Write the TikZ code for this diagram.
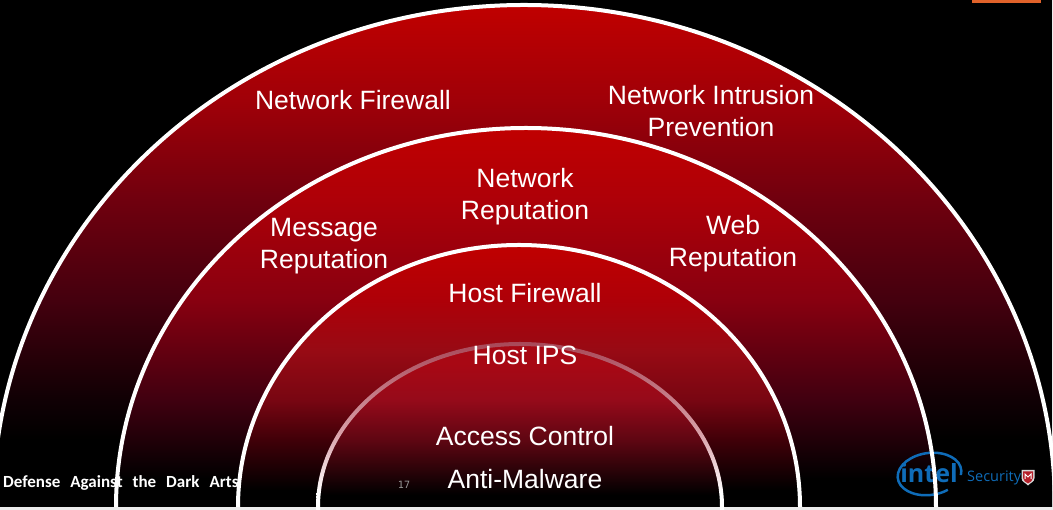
\documentclass[tikz,border=0pt]{standalone}
\usepackage{fontspec}
\setmainfont{Liberation Sans}
\newfontfamily\footfont[WordSpace=2.6]{Carlito}
\newfontfamily\pagefont{DejaVu Sans Mono}
\newfontfamily\logofont{Open Sans}
\definecolor{toprim}{HTML}{C00000}
\definecolor{outera}{HTML}{A00008}
\definecolor{outerb}{HTML}{70000E}
\definecolor{outerc}{HTML}{44000E}
\definecolor{outerd}{HTML}{100004}
\definecolor{seconda}{HTML}{AE0008}
\definecolor{secondb}{HTML}{880010}
\definecolor{secondc}{HTML}{400010}
\definecolor{thirda}{HTML}{AE0008}
\definecolor{thirdb}{HTML}{980A14}
\definecolor{thirdc}{HTML}{780612}
\definecolor{thirdd}{HTML}{400008}
\definecolor{topinner}{HTML}{A80814}
\definecolor{midinner}{HTML}{960A1A}
\definecolor{lowinner}{HTML}{5E0612}
\definecolor{intelblue}{HTML}{0F6CB8}
\definecolor{tabcolor}{HTML}{E0622A}
\definecolor{shieldred}{HTML}{B5202A}
\pgfdeclareverticalshading{outerfill}{100bp}{color(0bp)=(black); color(31.7bp)=(black); color(35.7bp)=(outerd); color(45.6bp)=(outerc); color(55.6bp)=(outerb); color(65.5bp)=(outera); color(75bp)=(toprim); color(100bp)=(toprim)}
\pgfdeclareverticalshading{secondfill}{100bp}{color(0bp)=(black); color(28.6bp)=(black); color(39.1bp)=(secondc); color(52.3bp)=(secondb); color(65.5bp)=(seconda); color(75bp)=(toprim); color(100bp)=(toprim)}
\pgfdeclareverticalshading{thirdfill}{100bp}{color(0bp)=(black); color(28.2bp)=(black); color(37.8bp)=(thirdd); color(45.4bp)=(thirdc); color(55bp)=(thirdb); color(64.5bp)=(thirda); color(75bp)=(toprim); color(100bp)=(toprim)}
\pgfdeclareverticalshading{innerfill}{100bp}{color(0bp)=(black); color(28.7bp)=(black); color(45.5bp)=(lowinner); color(58bp)=(midinner); color(69bp)=(topinner); color(100bp)=(topinner)}
\definecolor{rimtop}{HTML}{A84858}
\definecolor{rimmid}{HTML}{D8A0A8}
\pgfdeclareverticalshading{innerrim}{100bp}{color(0bp)=(white); color(30bp)=(white); color(48bp)=(rimmid); color(75bp)=(rimtop); color(100bp)=(rimtop)}
\tikzset{
  layer/.style={align=center, text=white, font=\fontsize{26.5}{32}\selectfont},
  rim/.style={draw=white, line width=4pt},
}
\begin{document}
\begin{tikzpicture}[x=1pt, y=1pt]
\useasboundingbox (0,0) rectangle (1053,510);
\clip (0,0) rectangle (1053,510);
\fill[gray!15] (0,0) rectangle (1053,510);
\fill[black] (0,3) rectangle (1052,510);
\begin{scope}
\clip (0,3) rectangle (1052,510);
% rings, outermost first
\shade[shading=outerfill] (-7,3) arc[start angle=180, end angle=0, x radius=531, y radius=502] -- cycle;
\shade[shading=secondfill] (116,3) arc[start angle=180, end angle=0, x radius=410, y radius=379] -- cycle;
\shade[shading=thirdfill] (238,3) arc[start angle=180, end angle=0, x radius=281, y radius=262] -- cycle;
\shade[shading=innerfill] (318,3) arc[start angle=180, end angle=0, x radius=202, y radius=163] -- cycle;
\end{scope}
\fill[tabcolor] (972,510) rectangle (1041,507);
\node[font=\footfont\bfseries\fontsize{17}{19}\selectfont, text=white, anchor=west, inner sep=0pt] (footer) at (3,27) {Defense Against the Dark Arts};
\node[font=\pagefont\fontsize{10}{12}\selectfont, text=gray!80] (pagenum) at (404,25) {17};
% logo
\draw[intelblue, line width=2.5pt, rotate around={8:(929.5,36)}] (929.5,36) ++(-15:32 and 21) arc[start angle=-15, end angle=300, x radius=32, y radius=21];
\node[font=\logofont\bfseries\fontsize{25}{28}\selectfont, text=intelblue, inner sep=0pt] (intel) at (929,37) {intel};
\node[font=\logofont\fontsize{14.5}{16}\selectfont, text=intelblue, anchor=west, inner sep=0pt] (security) at (967,32) {Security};
\fill[white!85!black] (1021.5,40) -- (1034.5,40) -- (1034.5,32) .. controls (1034.5,28) and (1030,27) .. (1028,24.5) .. controls (1026,27) and (1021.5,28) .. (1021.5,32) -- cycle;
\fill[shieldred] (1023,38.5) -- (1033,38.5) -- (1033,32) .. controls (1033,29) and (1030,28) .. (1028,26.5) .. controls (1026,28) and (1023,29) .. (1023,32) -- cycle;
\draw[white, line width=1pt] (1025,31) -- (1025,36) -- (1028,33) -- (1031,36) -- (1031,31);
\begin{scope}
\clip (0,0) rectangle (1053,510);
\draw[rim] (-7,3) arc[start angle=180, end angle=0, x radius=531, y radius=502];
\draw[rim] (116,3) arc[start angle=180, end angle=0, x radius=410, y radius=379];
\draw[rim] (238,3) arc[start angle=180, end angle=0, x radius=281, y radius=262];
\end{scope}
\shade[shading=innerrim] (316,0) -- (316,3) arc[start angle=180, end angle=0, x radius=204, y radius=165] -- (724,0) -- (720,0) -- (720,3) arc[start angle=0, end angle=180, x radius=200, y radius=161] -- (320,0) -- cycle;
% labels
\node[layer] (netfw) at (353,410) {Network Firewall};
\node[layer] (netips) at (711,399) {Network Intrusion\\Prevention};
\node[layer] (netrep) at (525,313.5) {Network\\Reputation};
\node[layer] (msgrep) at (324,264) {Message\\Reputation};
\node[layer] (webrep) at (733,266) {Web\\Reputation};
\node[layer] (hostfw) at (525,217) {Host Firewall};
\node[layer] (hostips) at (525,155) {Host IPS};
\node[layer] (access) at (525,74) {Access Control};
\node[layer] (malware) at (525,31) {Anti-Malware};
\end{tikzpicture}
\end{document}
